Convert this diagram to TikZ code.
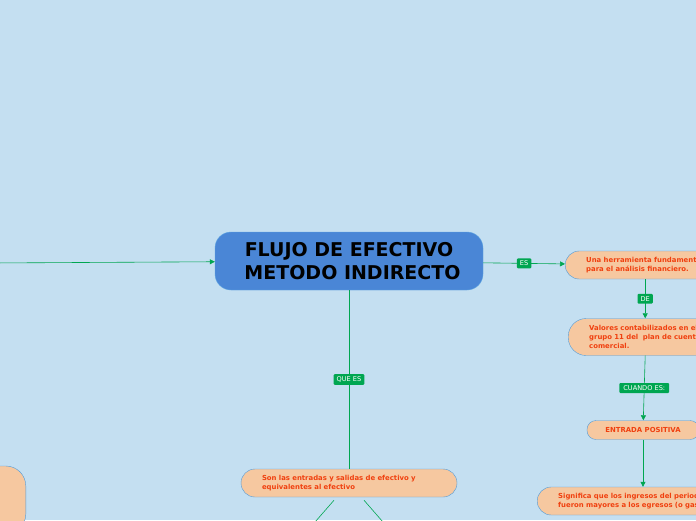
\documentclass[tikz,border=0pt]{standalone}
\usepackage{fontspec}
\setmainfont{DejaVu Sans}
\usepackage{tikz}
\usetikzlibrary{calc, positioning, arrows.meta}
\definecolor{sky}{HTML}{C4DFF1}
\definecolor{royal}{HTML}{4A86D6}
\definecolor{royaledge}{HTML}{5FA6E2}
\definecolor{peach}{HTML}{F6C8A0}
\definecolor{peachedge}{HTML}{4F9BDB}
\definecolor{flame}{HTML}{F0400F}
\definecolor{leaf}{HTML}{00A651}

\begin{document}
\begin{tikzpicture}[x=1pt, y=-1pt,
    main/.style={draw=royaledge, fill=royal, rounded corners=16pt,
                 minimum width=268pt, minimum height=58pt, align=center,
                 font=\fontsize{19}{23}\selectfont\bfseries},
    idea/.style={draw=peachedge, fill=peach, text=flame, align=left,
                 inner xsep=21pt, font=\fontsize{6.9}{9}\selectfont\bfseries},
    tag/.style={fill=leaf, text=white, rounded corners=1pt, inner xsep=3pt,
                inner ysep=2.5pt, font=\fontsize{6.6}{7}\selectfont},
    arr/.style={-{Triangle[length=5pt, width=5pt]}, leaf, semithick},
    link/.style={leaf, semithick}
  ]
    \useasboundingbox (0,0) rectangle (696,520);
    \clip (0,0) rectangle (696,520);
    \fill[sky] (0,0) rectangle (696,520);

    \node[main] (flujo) at (349,261)
          {FLUJO DE EFECTIVO\hspace{14pt}\\\hspace{7pt}METODO INDIRECTO};

    \node[idea, rounded corners=14pt, minimum height=28pt, text width=118pt,
          anchor=west] (herr) at (565,265)
          {Una herramienta fundamental\\para el análisis financiero.};
    \node[idea, rounded corners=18pt, minimum height=37pt, text width=140pt,
          anchor=west] (valor) at (568,337)
          {Valores contabilizados en el\\grupo 11 del\ \ plan de cuentas\\comercial.};
    \node[idea, rounded corners=9pt, minimum height=19pt, minimum width=112pt,
          align=center, inner xsep=4pt] (entrada) at (643,430) {ENTRADA POSITIVA};
    \node[idea, rounded corners=14pt, minimum height=28pt, text width=174pt,
          anchor=west] (signif) at (537,501)
          {Significa que los ingresos del periodo\\fueron mayores a los egresos (o gastos)};
    \node[idea, rounded corners=14pt, minimum height=28pt, text width=174pt]
          (son) at (349,483)
          {Son las entradas y salidas de efectivo y\\equivalentes al efectivo};
    \node[idea, rounded corners=20pt, minimum height=68pt, minimum width=90pt,
          anchor=east] (izq) at (26,500) {};

    \coordinate (orig) at (-10,263);
    \coordinate (bajoizq) at (295,545);
    \coordinate (bajoder) at (403,545);

    \draw[arr] (orig) -- (flujo);
    \draw[arr] (flujo) -- node[tag] {ES} (herr);
    \draw[arr] (herr.south) -- node[tag] {DE} (herr.south |- valor.north);
    \draw[arr] (herr.south |- valor.south) -- node[tag, inner xsep=4pt] {CUANDO ES:} (entrada);
    \draw[arr] (entrada) -- (entrada |- signif.north);
    \draw[link] (flujo) -- node[tag] {QUE ES} (son);
    \draw[link, shorten <=4pt] (son) -- (bajoizq);
    \draw[link, shorten <=4pt] (son) -- (bajoder);
  \end{tikzpicture}
\end{document}
